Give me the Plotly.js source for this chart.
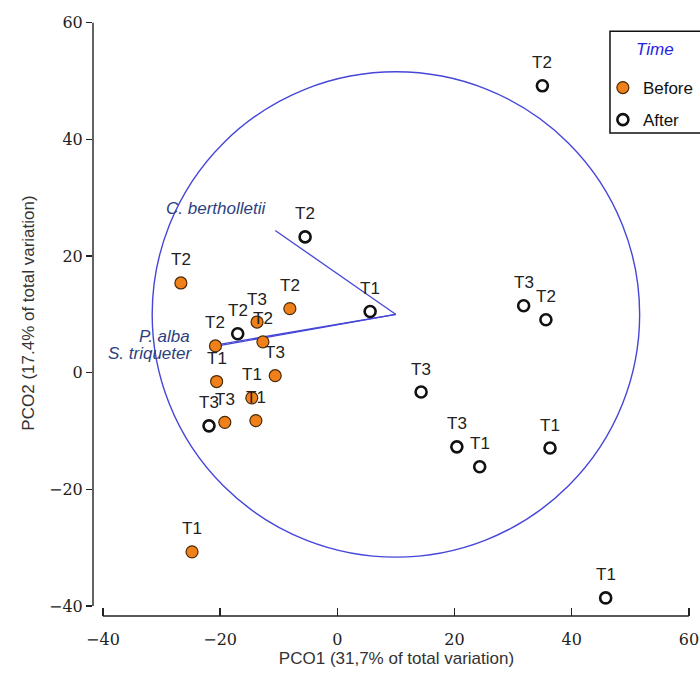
<!DOCTYPE html>
<html>
<head>
<meta charset="utf-8">
<script src="https://cdn.plot.ly/plotly-3.0.1.min.js"></script>
<style>html,body{margin:0;padding:0;background:#fff;}#chart{width:700px;height:679px;}</style>
</head>
<body>
<div id="chart"></div>
<script>
// Data: PCO scores
const beforeX = [-26.7, -8.1, -13.7, -12.7, -20.8, -20.6, -10.6, -14.6, -19.2, -13.9, -24.8];
const beforeY = [15.4, 11.0, 8.7, 5.3, 4.6, -1.5, -0.5, -4.3, -8.5, -8.2, -30.7];
const beforeLabels = ["T2", "T2", "T3", "T2", "T2", "T1", "T3", "T1", "T3", "T1", "T1"];

const afterX = [35.0, -5.5, 5.6, 31.8, 35.6, 14.3, 20.4, 24.3, 36.3, 45.8, -17.0, -21.9];
const afterY = [49.2, 23.3, 10.5, 11.5, 9.1, -3.3, -12.7, -16.1, -12.9, -38.6, 6.7, -9.1];
const afterLabels = ["T2", "T2", "T1", "T3", "T2", "T3", "T3", "T1", "T1", "T1", "T2", "T3"];

// Vector overlay (origin and species endpoints)
const vecOrigin = [10, 10];
const vecNames = ["C. bertholletii", "P. alba", "S. triqueter"];
const vecX = [-10.6, -20.4, -20.6];
const vecY = [24.4, 4.6, 4.8];
const circleRadius = 41.6;

const tickVals = [-40, -20, 0, 20, 40, 60];
const legendTitle = 'Time';

const blue = '#4646d8';
const sans = 'Liberation Sans';
const serif = '"DejaVu Serif", serif';
const traces = [];
vecNames.forEach((n, i) => {
  traces.push({
    x: [vecOrigin[0], vecX[i]], y: [vecOrigin[1], vecY[i]],
    mode: 'lines', line: {color: blue, width: 1.3},
    showlegend: false, hoverinfo: 'skip'
  });
});
traces.push({
  x: beforeX, y: beforeY, mode: 'markers', name: 'Before', legendgroup: 'b',
  marker: {symbol: 'circle', size: 12, color: '#f0801a', line: {color: '#4a2a08', width: 1.2}}
});
traces.push({
  x: afterX, y: afterY, mode: 'markers', name: 'After', legendgroup: 'a',
  marker: {symbol: 'circle', size: 11, color: '#ffffff', line: {color: '#111111', width: 2.6}}
});

const labelFont = {family: sans, size: 17, color: '#222'};
const annotations = [];
function addLabels(xs, ys, ls) {
  xs.forEach((x, i) => {
    annotations.push({x: x, y: ys[i], text: ls[i], showarrow: false, yshift: 23,
      xanchor: 'center', yanchor: 'middle', font: labelFont});
  });
}
addLabels(beforeX, beforeY, beforeLabels);
addLabels(afterX, afterY, afterLabels);

const vecFont = {family: sans, size: 17, color: '#2e3f80'};
const vecShift = [[-7, 22], [-26, 9], [-23, -9]];
vecNames.forEach((n, i) => {
  annotations.push({x: vecX[i], y: vecY[i], text: '<i>' + n + '</i>', showarrow: false,
    xanchor: 'right', yanchor: 'middle', xshift: vecShift[i][0], yshift: vecShift[i][1], font: vecFont});
});

// legend title (drawn inside a framed box)
annotations.push({xref: 'paper', yref: 'paper', x: 0.926, y: 0.934, text: '<i>' + legendTitle + '</i>',
  showarrow: false, xanchor: 'center', yanchor: 'middle', font: {family: sans, size: 17, color: '#2424e0'}});

const layout = {
  width: 700, height: 679,
  margin: {l: 93, r: 0, t: 10, b: 63, autoexpand: false},
  paper_bgcolor: '#fff', plot_bgcolor: '#fff',
  showlegend: true,
  legend: {
    x: 0.840, y: 0.901, xanchor: 'left', yanchor: 'top',
    borderwidth: 0, bgcolor: 'rgba(0,0,0,0)',
    font: {family: sans, size: 17, color: '#111'},
    itemwidth: 30, traceorder: 'grouped', tracegroupgap: 7
  },
  xaxis: {
    range: [-41.7, 61.9], tickvals: tickVals, ticks: 'inside', ticklen: 8, tickwidth: 1.3, tickcolor: '#222',
    showline: false, zeroline: false, showgrid: false, ticklabelstandoff: 12, automargin: false,
    ticklabeloverflow: 'allow',
    tickfont: {family: serif, size: 16, color: '#222'},
    title: {text: 'PCO1 (31,7% of total variation)', standoff: 4,
      font: {family: sans, size: 17, color: '#333'}}
  },
  yaxis: {
    range: [-41.7, 62.2], tickvals: tickVals, ticks: 'outside', ticklen: 6, tickwidth: 1.3, tickcolor: '#222',
    showline: false, zeroline: false, showgrid: false, automargin: false,
    ticklabeloverflow: 'allow',
    tickfont: {family: serif, size: 16, color: '#222'},
    title: {text: 'PCO2 (17.4% of total variation)', standoff: 10,
      font: {family: sans, size: 17, color: '#333'}}
  },
  shapes: [
    {type: 'circle', xref: 'x', yref: 'y', layer: 'below',
     x0: vecOrigin[0] - circleRadius, x1: vecOrigin[0] + circleRadius,
     y0: vecOrigin[1] - circleRadius, y1: vecOrigin[1] + circleRadius,
     line: {color: blue, width: 1.4}},
    {type: 'line', xref: 'x', yref: 'paper', x0: -40, x1: 60, y0: 0, y1: 0, line: {color: '#222', width: 1.4}},
    {type: 'line', xref: 'paper', yref: 'y', x0: 0, x1: 0, y0: -40, y1: 60, line: {color: '#222', width: 1.4}},
    {type: 'rect', xref: 'paper', yref: 'paper', layer: 'below', x0: 0.8517, x1: 1.03, y0: 0.797, y1: 0.965,
     line: {color: '#111', width: 1.5}, fillcolor: '#fff'}
  ],
  annotations: annotations
};

Plotly.newPlot('chart', traces, layout, {displayModeBar: false, staticPlot: true});
</script>
</body>
</html>
